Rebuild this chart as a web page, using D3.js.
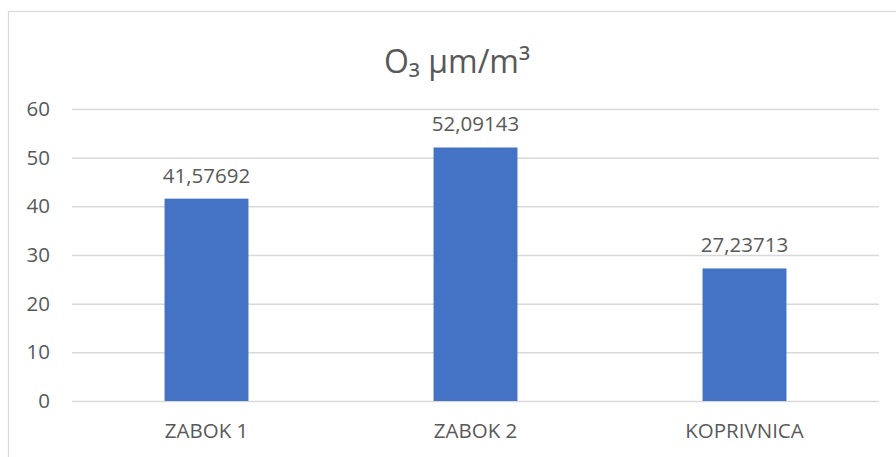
<!DOCTYPE html>
<html>
<head>
<meta charset="utf-8">
<script src="https://cdn.jsdelivr.net/npm/d3@7"></script>
<style>
  body { margin: 0; background: #fff; }
  text { font-family: "Open Sans", "Noto Sans", sans-serif; fill: #595959; }
</style>
</head>
<body>
<script>
const categories = ["ZABOK 1", "ZABOK 2", "KOPRIVNICA"];
const values = [41.57692, 52.09143, 27.23713];
const yTicks = [0, 10, 20, 30, 40, 50, 60];
const title = "O₃ µm/m³";

const width = 896;
const height = 457;
const plotLeft = 72, plotRight = 879, plotTop = 109, plotBottom = 401;

const svg = d3.select("body")
    .append("svg")
    .attr("width", width)
    .attr("height", height);

// chart frame
svg.append("rect")
    .attr("x", 8.5)
    .attr("y", 11.5)
    .attr("width", 920)
    .attr("height", 470)
    .attr("fill", "none")
    .attr("stroke", "#d9d9d9")
    .attr("stroke-width", 1.2);

// X scale
const x = d3.scaleBand()
    .domain(categories)
    .range([plotLeft, plotRight])
    .paddingInner(0.688)
    .paddingOuter(0.344);

// Y scale
const y = d3.scaleLinear()
    .domain([0, 60])
    .range([plotBottom, plotTop]);

// y axis + gridlines
const yAxis = svg.append("g")
    .attr("transform", `translate(${plotLeft},0)`)
    .call(d3.axisLeft(y).tickValues(yTicks).tickSize(-(plotRight - plotLeft)).tickPadding(22));
yAxis.select(".domain").remove();
yAxis.selectAll(".tick line")
    .attr("stroke", "#d9d9d9")
    .attr("stroke-width", 1.5);
yAxis.selectAll(".tick text")
    .attr("font-size", 20.5)
    .attr("font-family", "Open Sans")
    .attr("fill", "#595959");

// bars
svg.selectAll("rect.bar")
    .data(values)
    .enter()
    .append("rect")
    .attr("class", "bar")
    .attr("x", (d, i) => x(categories[i]))
    .attr("y", d => y(d))
    .attr("width", x.bandwidth())
    .attr("height", d => y(0) - y(d))
    .attr("fill", "#4472c4");

// value labels
svg.selectAll("text.val")
    .data(values)
    .enter()
    .append("text")
    .attr("class", "val")
    .attr("x", (d, i) => x(categories[i]) + x.bandwidth() / 2)
    .attr("y", d => y(d) - 16)
    .attr("text-anchor", "middle")
    .attr("font-size", 20.5)
    .text(d => d3.format(".5f")(d).replace(".", ","));

// x axis labels
const xAxis = svg.append("g")
    .attr("transform", `translate(0,${plotBottom})`)
    .call(d3.axisBottom(x).tickSize(0).tickPadding(22));
xAxis.select(".domain").remove();
xAxis.selectAll(".tick text")
    .attr("font-size", 20.5)
    .attr("font-family", "Open Sans")
    .attr("fill", "#595959");

// title
svg.append("text")
    .attr("x", 457)
    .attr("y", 73)
    .attr("text-anchor", "middle")
    .attr("font-size", 32)
    .text(title);
</script>
</body>
</html>
